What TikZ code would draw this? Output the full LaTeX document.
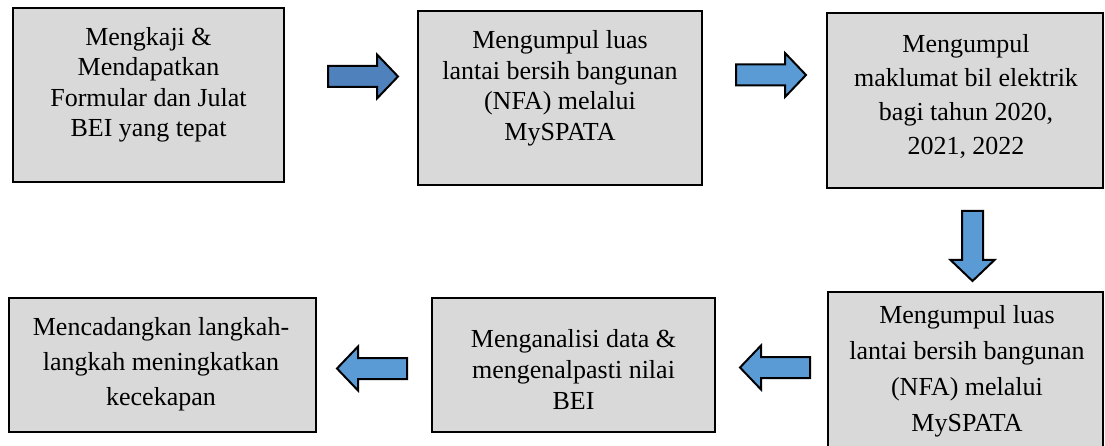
\documentclass[tikz,border=0pt]{standalone}
\usepackage{fontspec}
\setmainfont{Liberation Serif}
\usepackage{tikz}
\usetikzlibrary{positioning}

\definecolor{boxgray}{HTML}{D9D9D9}
\definecolor{arrowdark}{HTML}{4F81BD}
\definecolor{arrowblue}{HTML}{5B9BD5}

\begin{document}
\begin{tikzpicture}[x=1pt,y=-1pt,
    box/.style={rectangle,draw=black,fill=boxgray,line width=2pt,inner sep=0pt},
    txt/.style={align=center,inner sep=0pt,font=\fontsize{26pt}{#1}\selectfont},
    txt/.default=30.5pt,
    barrow/.pic={\path[draw=black,line width=2pt,pic actions]
      (0,-10.5) -- (49,-10.5) -- (49,-22) -- (70,0) -- (49,22) -- (49,10.5)
      -- (0,10.5) -- cycle;}]
  \useasboundingbox (0,0) rectangle (1105,446);

  \node[box,minimum width=271pt,minimum height=174pt] (b1) at (148.5,95) {};
  \node[box,minimum width=284pt,minimum height=174pt] (b2) at (560,98) {};
  \node[box,minimum width=276pt,minimum height=175pt] (b3) at (965,100.5) {};
  \node[box,minimum width=275pt,minimum height=160pt] (b4) at (965.5,372) {};
  \node[box,minimum width=283pt,minimum height=134pt] (b5) at (573.5,365) {};
  \node[box,minimum width=307pt,minimum height=134pt] (b6) at (162.5,365) {};

  \node[txt] (t1) at (148.5,85) {Mengkaji \&\\Mendapatkan\\Formular dan Julat\\BEI yang tepat};
  \node[txt] (t2) at (560,88.5) {Mengumpul luas\\lantai bersih bangunan\\(NFA) melalui\\MySPATA};
  \node[txt=34pt] (t3) at (966,96) {Mengumpul\\maklumat bil elektrik\\bagi tahun 2020,\\2021, 2022};
  \node[txt=36pt] (t4) at (967,371.5) {Mengumpul luas\\lantai bersih bangunan\\(NFA) melalui\\MySPATA};
  \node[txt=31pt] (t5) at (573.5,370) {Menganalisi data \&\\mengenalpasti nilai\\BEI};
  \node[txt=35pt] (t6) at (161,364.5) {Mencadangkan langkah-\\langkah meningkatkan\\kecekapan};

  \pic[fill=arrowdark] (a1) at (328,76.5) {barrow};
  \pic[fill=arrowblue] (a2) at (736,75) {barrow};
  \pic[fill=arrowblue,rotate=-90] (a3) at (972.5,211) {barrow};
  \pic[fill=arrowblue,rotate=180] (a4) at (810,367.5) {barrow};
  \pic[fill=arrowblue,rotate=180] (a5) at (407,368.5) {barrow};
\end{tikzpicture}
\end{document}
